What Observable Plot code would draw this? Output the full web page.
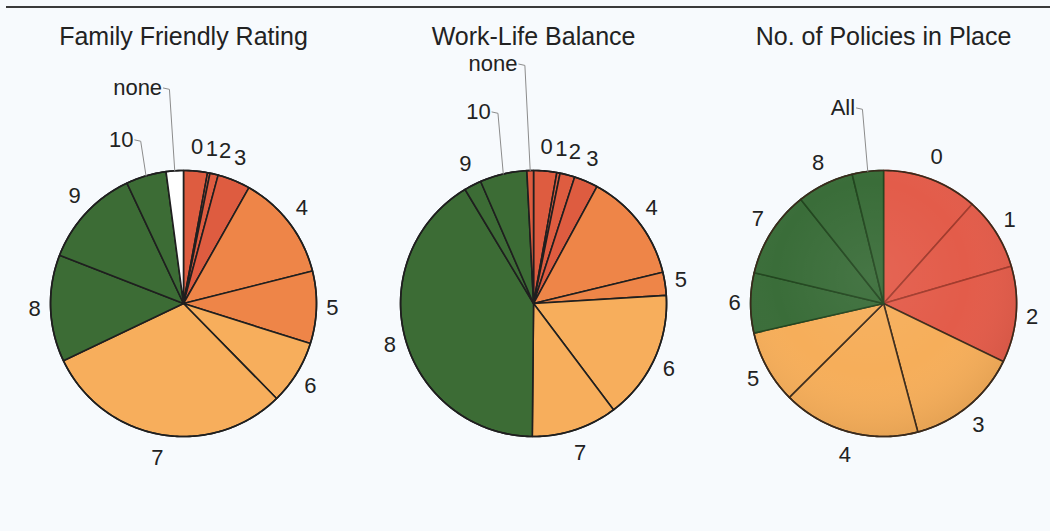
<!DOCTYPE html>
<html>
<head>
<meta charset="utf-8">
<script src="https://cdn.jsdelivr.net/npm/d3@7"></script>
<script src="https://cdn.jsdelivr.net/npm/@observablehq/plot@0.6"></script>
<style>
  html, body { margin: 0; padding: 0; background: #f7fafd; }
  #wrap { position: relative; width: 1050px; height: 531px; overflow: hidden; background: #f7fafd; }
  #topline { position: absolute; left: 6px; right: 0; top: 6px; border-top: 2px solid #3a3a3a; }
  #chart { position: absolute; left: 0; top: 0; }
</style>
</head>
<body>
<div id="wrap"><div id="topline"></div><div id="chart"></div></div>
<script>
// ---------- data ----------
const titles = ["Family Friendly Rating", "Work-Life Balance", "No. of Policies in Place"];

const ratingCategories = ["0", "1", "2", "3", "4", "5", "6", "7", "8", "9", "10", "none"];

// Family Friendly Rating (% of respondents)
const familyValues = [2.9, 0.3, 1.0, 4.0, 12.9, 8.8, 7.8, 30.3, 13.0, 12.1, 4.9, 2.1];
const familyGroups = ["red", "red", "red", "red", "orange", "orange", "light", "light", "green", "green", "green", "none"];

// Work-Life Balance (% of respondents)
const workLifeValues = [2.8, 0.4, 1.8, 2.9, 13.3, 2.8, 15.7, 10.4, 41.2, 2.1, 5.7, 0.8];
const workLifeGroups = ["red", "red", "red", "red", "orange", "orange", "light", "light", "green", "green", "green", "red"];

// No. of Policies in Place (% of respondents)
const policyCategories = ["0", "1", "2", "3", "4", "5", "6", "7", "8", "All"];
const policyValues = [11.6, 8.9, 11.7, 13.7, 16.7, 8.9, 7.3, 10.6, 6.9, 3.8];
const policyGroups = ["red", "red", "red", "light", "light", "light", "green", "green", "green", "green"];

// labels lifted above the pie with a leader line (height in radius units)
const callouts = [
  {pie: 0, category: "none", height: 1.62},
  {pie: 0, category: "10", height: 1.23},
  {pie: 1, category: "none", height: 1.80},
  {pie: 1, category: "10", height: 1.44},
  {pie: 2, category: "All", height: 1.47}
];

// ---------- styling ----------
const palette = {
  red: "#de5c40",
  orange: "#ee8548",
  light: "#f7ae5c",
  green: "#3c6c35",
  none: "#ffffff"
};
const policyPalette = {
  red: "#e35c4a",
  light: "#f6ae5a",
  green: "#3a6d39"
};
const policyStroke = {
  red: "#a13b2d",
  light: "#3d2c1c",
  green: "#22461f"
};

const pies = [
  {title: titles[0], categories: ratingCategories, values: familyValues, groups: familyGroups, colors: palette, strokes: null},
  {title: titles[1], categories: ratingCategories, values: workLifeValues, groups: workLifeGroups, colors: palette, strokes: null},
  {title: titles[2], categories: policyCategories, values: policyValues, groups: policyGroups, colors: policyPalette, strokes: policyStroke}
];

const pitch = 2.632;      // distance between pie centres, radius units
const labelRx = 1.12, labelRy = 1.18;
const minSep = 0.1;       // minimum horizontal gap between neighbouring labels
const deg = Math.PI / 180;

const slicePts = [], outlinePts = [], shadePts = [], leaderPts = [], labelsMid = [], labelsEnd = [], titleRows = [];

pies.forEach((p, i) => {
  const cx = i * pitch;
  const arcs = d3.pie().sort(null).value(d => d)(p.values);
  const pieLabels = [];
  arcs.forEach((a, j) => {
    const id = i + "-" + j;
    const group = p.groups[j];
    const fill = p.colors[group];
    const stroke = p.strokes ? p.strokes[group] : "#1f1f1f";
    const n = Math.max(2, Math.ceil((a.endAngle - a.startAngle) / deg));
    slicePts.push({id, x: cx, y: 0, fill, stroke});
    for (let k = 0; k <= n; k++) {
      const t = a.startAngle + (a.endAngle - a.startAngle) * k / n;
      slicePts.push({id, x: cx + Math.sin(t), y: Math.cos(t), fill, stroke});
    }
    const mid = (a.startAngle + a.endAngle) / 2;
    const cat = p.categories[j];
    const co = callouts.find(c => c.pie === i && c.category === cat);
    if (co) {
      const ex = cx + Math.sin(mid), ey = Math.cos(mid);
      leaderPts.push({id, x: ex - 0.085, y: co.height});
      leaderPts.push({id, x: ex - 0.04, y: co.height - 0.01});
      leaderPts.push({id, x: ex, y: ey});
      labelsEnd.push({x: ex - 0.095, y: co.height, text: cat});
    } else {
      pieLabels.push({x: cx + labelRx * Math.sin(mid), y: labelRy * Math.cos(mid), text: cat});
    }
  });
  // simple collision avoidance for crowded neighbouring labels
  for (let k = 1; k < pieLabels.length; k++) {
    const a = pieLabels[k - 1], b = pieLabels[k];
    if (Math.abs(a.y - b.y) < 0.15 && b.x - a.x < minSep && b.x >= a.x - 0.01) b.x = a.x + minSep;
  }
  labelsMid.push(...pieLabels);
  for (let k = 0; k <= 360; k++) {
    outlinePts.push({id: "o" + i, x: cx + Math.sin(k * deg), y: Math.cos(k * deg), stroke: p.strokes ? "#3a2a1c" : "#1f1f1f"});
    if (p.strokes) shadePts.push({id: "s" + i, x: cx + Math.sin(k * deg), y: Math.cos(k * deg)});
  }
  titleRows.push({x: cx, y: 2.0, text: p.title});
});

const font = "'Liberation Sans', Arial, Helvetica, sans-serif";

const chart = Plot.plot({
  width: 1050,
  height: 531,
  margin: 0,
  x: {domain: [-1.376, 6.519], axis: null},
  y: {domain: [-1.714, 2.278], axis: null},
  color: {type: "identity"},
  style: {background: "transparent", fontFamily: font, overflow: "visible"},
  marks: [
    Plot.line(slicePts, {x: "x", y: "y", z: "id", fill: "fill", stroke: "stroke", strokeWidth: 1.6, curve: "linear-closed", strokeLinejoin: "round"}),
    Plot.line(shadePts, {x: "x", y: "y", z: "id", fill: "url(#pieShade)", stroke: "none", curve: "linear-closed"}),
    Plot.line(outlinePts, {x: "x", y: "y", z: "id", stroke: "stroke", strokeWidth: 1.6, fill: "none"}),
    Plot.line(leaderPts, {x: "x", y: "y", z: "id", stroke: "#8c8c8c", strokeWidth: 1}),
    Plot.text(labelsMid, {x: "x", y: "y", text: "text", fontSize: 22, fill: "#222", textAnchor: "middle"}),
    Plot.text(labelsEnd, {x: "x", y: "y", text: "text", fontSize: 22, fill: "#222", textAnchor: "end"}),
    Plot.text(titleRows, {x: "x", y: "y", text: "text", fontSize: 25, fill: "#222", textAnchor: "middle"})
  ]
});

// very soft radial shading used by the third (3-D style) pie
const ns = "http://www.w3.org/2000/svg";
const defs = document.createElementNS(ns, "defs");
defs.innerHTML =
  '<radialGradient id="pieShade" cx="45%" cy="40%" r="60%">' +
  '<stop offset="0%" stop-color="#ffffff" stop-opacity="0.06"/>' +
  '<stop offset="60%" stop-color="#ffffff" stop-opacity="0"/>' +
  '<stop offset="100%" stop-color="#000000" stop-opacity="0.06"/>' +
  '</radialGradient>';
chart.insertBefore(defs, chart.firstChild);

document.getElementById("chart").appendChild(chart);
</script>
</body>
</html>
